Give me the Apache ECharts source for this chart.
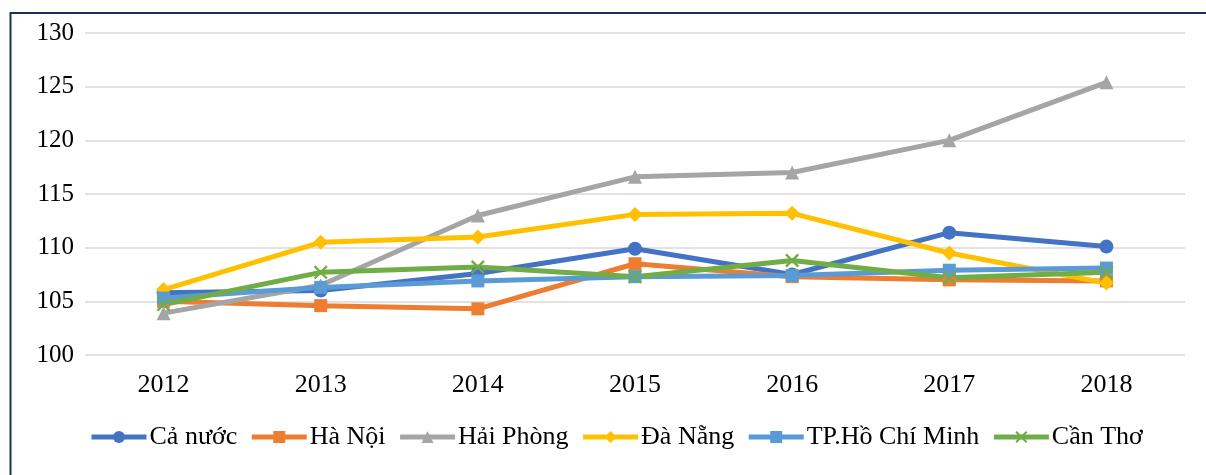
<!DOCTYPE html>
<html><head><meta charset="utf-8">
<script src="https://cdn.jsdelivr.net/npm/echarts@6/dist/echarts.min.js"></script>
<style>html,body{margin:0;padding:0;background:#fff}#c{width:1206px;height:475px}</style>
</head><body><div id="c"></div>
<script>
const years = ['2012','2013','2014','2015','2016','2017','2018'];
const names = ['Cả nước','Hà Nội','Hải Phòng','Đà Nẵng','TP.Hồ Chí Minh','Cần Thơ'];
const caNuoc   = [105.8, 106.0, 107.6, 109.9, 107.5, 111.4, 110.1];
const haNoi    = [105.0, 104.6, 104.3, 108.5, 107.3, 107.0, 106.9];
const haiPhong = [103.9, 106.5, 113.0, 116.6, 117.0, 120.0, 125.4];
const daNang   = [106.1, 110.5, 111.0, 113.1, 113.2, 109.5, 106.7];
const hcm      = [105.3, 106.3, 106.9, 107.3, 107.4, 107.9, 108.1];
const canTho   = [104.7, 107.7, 108.2, 107.3, 108.8, 107.2, 107.7];
const yTicks = [100, 105, 110, 115, 120, 125, 130];

const colors = ['#4472C4','#ED7D31','#A5A5A5','#FFC000','#5B9BD5','#70AD47'];
const crossPath = 'path://M0,1.2 L1.2,0 L5,3.8 L8.8,0 L10,1.2 L6.2,5 L10,8.8 L8.8,10 L5,6.2 L1.2,10 L0,8.8 L3.8,5 Z';
const symbols = ['circle','rect','triangle','diamond','rect',crossPath];
const sizes = [14,13,14,15,13,14];
const dataSets = [caNuoc, haNoi, haiPhong, daNang, hcm, canTho];
const font = "'Liberation Serif','Times New Roman',serif";

const chart = echarts.init(document.getElementById('c'));
chart.setOption({
  animation:false,
  color: colors,
  graphic:[{type:'rect', shape:{x:10.5,y:13,width:1220,height:480}, style:{fill:'none', stroke:'#1F2F5C', lineWidth:2}, z:-1}],
  grid:{left:85, right:21, top:33, bottom:120},
  legend:{
    bottom:20, left:84, itemWidth:55, itemHeight:15, itemGap:12,
    lineStyle:{width:5},
    textStyle:{fontFamily:font, fontSize:26, color:'#000', padding:[0,0,0,-2]},
    data:names
  },
  xAxis:{
    type:'category', data:years, boundaryGap:true,
    axisLine:{show:false}, axisTick:{show:false},
    axisLabel:{fontFamily:font, fontSize:26, color:'#000', margin:17}
  },
  yAxis:{
    type:'value', min:yTicks[0], max:yTicks[yTicks.length-1], interval:5,
    axisLine:{show:false}, axisTick:{show:false},
    axisLabel:{fontFamily:font, fontSize:25, color:'#000', margin:11},
    splitLine:{lineStyle:{color:'#D9D9D9', width:1.5}}
  },
  series: dataSets.map((d,i)=>({
    name:names[i], type:'line', data:d,
    symbol:symbols[i], symbolSize:sizes[i], showAllSymbol:true,
    lineStyle:{width:5, color:colors[i]},
    itemStyle:{color:colors[i]}
  }))
});
</script></body></html>
